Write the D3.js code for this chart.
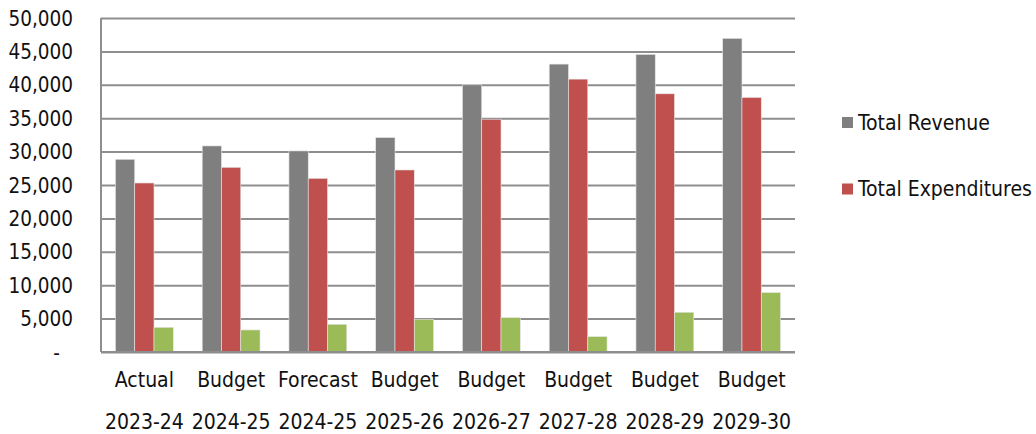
<!DOCTYPE html>
<html>
<head>
<meta charset="utf-8">
<script src="https://cdn.jsdelivr.net/npm/d3@7"></script>
<style>
  body { margin: 0; background: #fff; }
  svg text { font-family: "DejaVu Sans Condensed", "DejaVu Sans", sans-serif; fill: #111; }
</style>
</head>
<body>
<svg id="chart"></svg>
<script>
// Chart values
const periods = ["Actual", "Budget", "Forecast", "Budget", "Budget", "Budget", "Budget", "Budget"];
const years = ["2023-24", "2024-25", "2024-25", "2025-26", "2026-27", "2027-28", "2028-29", "2029-30"];
const seriesNames = ["Total Revenue", "Total Expenditures", "Surplus"];
const revenue = [28850, 30850, 30100, 32100, 40000, 43100, 44550, 46950];
const expenditures = [25300, 27650, 26000, 27250, 34850, 40850, 38650, 38100];
const surplus = [3700, 3300, 4150, 4900, 5150, 2300, 5950, 8900];
const yTicks = [0, 5000, 10000, 15000, 20000, 25000, 30000, 35000, 40000, 45000, 50000];
const legendNames = ["Total Revenue", "Total Expenditures"];

const config = {
  width: 1036,
  height: 434,
  margin: { top: 18, right: 241, bottom: 82, left: 101 },
  colors: ["#7f7f7f", "#c0504d", "#9bbb59"],
  grid: "#8e8e8e"
};

const innerW = config.width - config.margin.left - config.margin.right;
const innerH = config.height - config.margin.top - config.margin.bottom;

const svg = d3.select("#chart")
  .attr("width", config.width)
  .attr("height", config.height);

const chart = svg.append("g")
  .attr("transform", `translate(${config.margin.left},${config.margin.top})`);

// build row table from the arrays
const keys = years.map((y, i) => i);
const values = [revenue, expenditures, surplus];

const xScale = d3.scaleBand()
  .domain(keys)
  .range([0, innerW])
  .paddingInner(1 / 3)
  .paddingOuter(1 / 6);

const xInner = d3.scaleBand()
  .domain(seriesNames)
  .range([0, xScale.bandwidth()]);

const yScale = d3.scaleLinear()
  .domain([0, 50000])
  .range([innerH, 0]);

// horizontal gridlines
const yAxis = d3.axisLeft(yScale)
  .tickValues(yTicks)
  .tickSize(-innerW)
  .tickPadding(28)
  .tickFormat(d => d === 0 ? "-" : d3.format(",")(d));

const yAxisGroup = chart.append("g")
  .attr("class", "y-axis")
  .call(yAxis);

yAxisGroup.select(".domain").remove();
yAxisGroup.selectAll(".tick line")
  .attr("stroke", config.grid)
  .attr("stroke-width", 2);
yAxisGroup.selectAll(".tick text")
  .attr("font-size", 20.5)
  .attr("dy", "0.35em")
  .attr("fill", "#111");
// accounting style dash sits a bit left of the digits
yAxisGroup.selectAll(".tick text")
  .filter(d => d === 0)
  .attr("x", -41);

// left axis line
chart.append("line")
  .attr("x1", 0).attr("x2", 0)
  .attr("y1", 0).attr("y2", innerH)
  .attr("stroke", config.grid)
  .attr("stroke-width", 2);

// bars
const groups = chart.selectAll(".group")
  .data(keys)
  .join("g")
  .attr("class", "group")
  .attr("transform", d => `translate(${xScale(d)},0)`);

groups.selectAll("rect")
  .data(i => seriesNames.map((s, j) => ({ series: s, j: j, value: values[j][i] })))
  .join("rect")
  .attr("x", d => xInner(d.series))
  .attr("width", xInner.bandwidth())
  .attr("y", d => yScale(d.value))
  .attr("height", d => innerH - yScale(d.value))
  .attr("fill", d => config.colors[d.j])
  .attr("stroke", "#e6e6e6")
  .attr("stroke-width", 0.6);

// bottom axis line
chart.append("line")
  .attr("x1", 0).attr("x2", innerW)
  .attr("y1", innerH).attr("y2", innerH)
  .attr("stroke", config.grid)
  .attr("stroke-width", 2);

// category labels, two rows
const xAxisGroup = chart.append("g")
  .attr("class", "x-axis")
  .attr("transform", `translate(0,${innerH})`)
  .call(d3.axisBottom(xScale).tickSize(0).tickFormat(i => periods[i]));

xAxisGroup.select(".domain").remove();
xAxisGroup.selectAll(".tick text")
  .attr("font-size", 21)
  .attr("y", 35)
  .attr("dy", 0)
  .attr("fill", "#111");

xAxisGroup.selectAll(".tick")
  .append("text")
  .attr("text-anchor", "middle")
  .attr("font-size", 21)
  .attr("y", 77)
  .attr("fill", "#111")
  .text(i => years[i]);

// legend
const legend = svg.append("g")
  .attr("transform", "translate(842,117)");

const legendItems = legend.selectAll(".legend-item")
  .data(legendNames)
  .join("g")
  .attr("class", "legend-item")
  .attr("transform", (d, i) => `translate(0,${i * 66.5})`);

legendItems.append("rect")
  .attr("width", 11)
  .attr("height", 11)
  .attr("fill", (d, i) => config.colors[i]);

legendItems.append("text")
  .attr("x", 16)
  .attr("y", 5.5)
  .attr("dy", "0.35em")
  .attr("font-size", 21)
  .text(d => d);
</script>
</body>
</html>
